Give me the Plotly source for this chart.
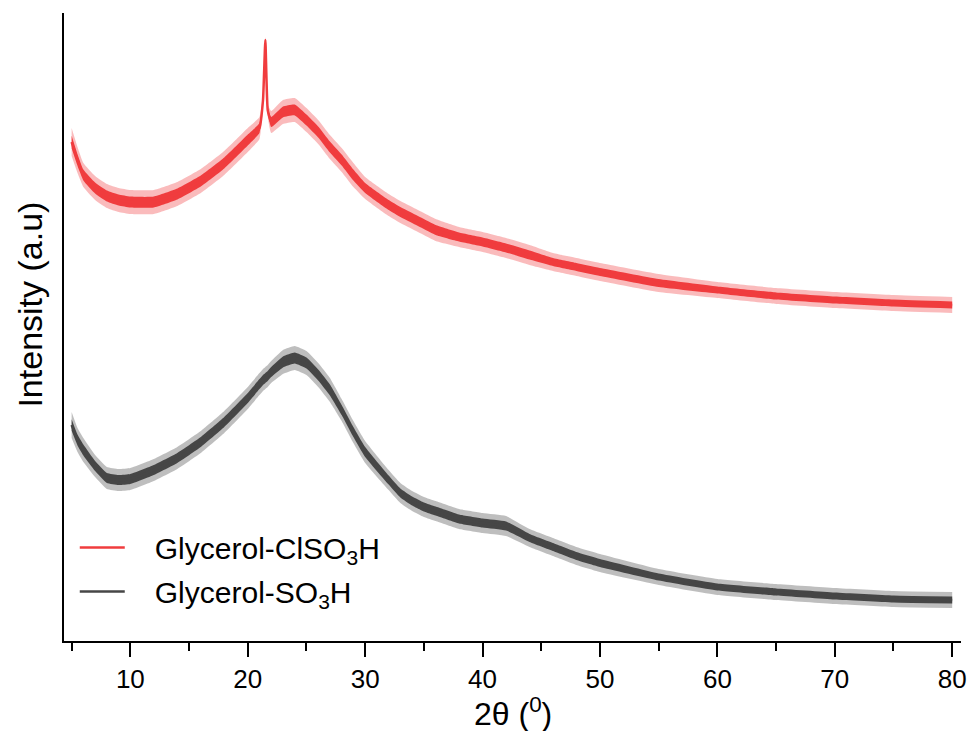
import plotly.graph_objects as go

two_theta = [5, 5.5, 6, 7, 8, 9, 10, 12, 14, 16, 18, 20, 21, 21.3, 21.5, 21.7, 22, 23, 24, 25,
             26, 27, 28, 29, 30, 32, 33, 34, 35, 36, 38, 40, 42, 44, 46, 48, 50, 55, 60, 65, 70, 75, 80]

# Glycerol-ClSO3H: mean intensity (a.u.) and half-width of the noise band
clso3h_mean = [499, 481, 466, 453, 445, 441, 439, 439, 447, 460, 478, 501, 513, 541, 601, 531, 519,
               529, 531, 521, 509, 494, 481, 466, 453, 436, 429, 423, 417, 411, 404, 399, 393, 386,
               379, 374, 369, 358, 351, 345, 341, 338, 336]
clso3h_noise = [14, 13, 12, 12, 12, 12, 12, 12, 12, 12, 12, 12, 11, 6, 3, 6, 11, 12, 12, 12,
                12, 12, 12, 12, 11, 11, 11, 11, 11, 11, 10, 10, 10, 10, 9, 9, 9, 9, 8, 8, 8, 8, 8]

# Glycerol-SO3H: mean intensity (a.u.) and half-width of the noise band
so3h_mean = [216, 201, 191, 175, 163, 161, 162, 171, 183, 199, 219, 243, 257, 261, 263, 265, 269,
             279, 283, 278, 266, 251, 231, 209, 189, 161, 148, 140, 134, 130, 122, 118, 115, 103,
             94, 85, 78, 64, 54, 49, 45, 42, 41]
so3h_noise = [13, 12, 12, 11, 11, 11, 11, 11, 11, 11, 11, 11, 11, 11, 11, 11, 11, 12, 12, 12,
              12, 12, 11, 11, 11, 10, 10, 10, 10, 10, 10, 10, 10, 9, 9, 9, 9, 8, 8, 8, 8, 8, 8]

x_ticks = [10, 20, 30, 40, 50, 60, 70, 80]
x_minor_ticks = [5, 15, 25, 35, 45, 55, 65, 75]

series = [
    ("Glycerol-ClSO<sub>3</sub>H", clso3h_mean, clso3h_noise, "rgb(240,60,62)", "rgba(240,60,62,0.35)"),
    ("Glycerol-SO<sub>3</sub>H", so3h_mean, so3h_noise, "rgb(70,70,70)", "rgba(70,70,70,0.35)"),
]

LS = dict(shape="spline", smoothing=0.4)
PAD = "\u00a0\u00a0\u00a0"

fig = go.Figure()
for i, (name, mean, noise, col, light) in enumerate(series):
    outer_hi = [m + n for m, n in zip(mean, noise)]
    outer_lo = [m - n for m, n in zip(mean, noise)]
    core_hi = [m + n * 0.45 for m, n in zip(mean, noise)]
    core_lo = [m - n * 0.45 for m, n in zip(mean, noise)]
    fig.add_trace(go.Scatter(x=two_theta, y=outer_hi, mode="lines", line=dict(width=0, color=light, **LS),
                             showlegend=False, hoverinfo="skip"))
    fig.add_trace(go.Scatter(x=two_theta, y=outer_lo, mode="lines", line=dict(width=0, color=light, **LS),
                             fill="tonexty", fillcolor=light, showlegend=False, hoverinfo="skip"))
    fig.add_trace(go.Scatter(x=two_theta, y=core_hi, mode="lines", line=dict(width=0, color=col, **LS),
                             showlegend=False, hoverinfo="skip"))
    fig.add_trace(go.Scatter(x=two_theta, y=core_lo, mode="lines", line=dict(width=0, color=col, **LS),
                             fill="tonexty", fillcolor=col, showlegend=False, hoverinfo="skip"))
    fig.add_trace(go.Scatter(x=two_theta, y=mean, mode="lines", name=PAD + name,
                             line=dict(width=2.5, color=col, **LS), legendgroup=f"g{i}"))

fig.update_layout(
    width=976, height=731,
    margin=dict(l=64, r=9, t=13, b=90),
    paper_bgcolor="white", plot_bgcolor="white",
    font=dict(family="Liberation Sans, Arial, sans-serif", color="black"),
    showlegend=True,
    legend=dict(x=0.012, y=0.114, xanchor="left", yanchor="middle", bgcolor="rgba(0,0,0,0)",
                font=dict(size=30), tracegroupgap=2, traceorder="grouped", itemwidth=45),
    xaxis=dict(
        range=[4.35, 80.75], showline=True, linecolor="black", linewidth=2, mirror=False,
        showgrid=False, zeroline=False,
        tickmode="array", tickvals=x_ticks,
        ticks="outside", ticklen=14, tickwidth=2, tickcolor="black",
        tickfont=dict(size=26), ticklabelstandoff=0,
        minor=dict(tickvals=x_minor_ticks, ticks="outside", ticklen=8,
                   tickwidth=2, tickcolor="black"),
    ),
    yaxis=dict(
        range=[0, 628], showline=True, linecolor="black", linewidth=2, showgrid=False,
        zeroline=False, showticklabels=False, ticks="",
    ),
    annotations=[
        dict(text="2θ (<sup>0</sup>)", xref="paper", yref="paper", x=0.5, y=-0.113,
             xanchor="center", yanchor="middle", showarrow=False, font=dict(size=32)),
        dict(text="Intensity (a.u)", xref="paper", yref="paper", x=-0.0377, y=0.536,
             xanchor="center", yanchor="middle", textangle=-90, showarrow=False,
             font=dict(size=34)),
    ],
)

fig.write_html("out.html", config={"displayModeBar": False},
               post_script="document.body.style.margin='0px';document.body.style.overflow='hidden';")
